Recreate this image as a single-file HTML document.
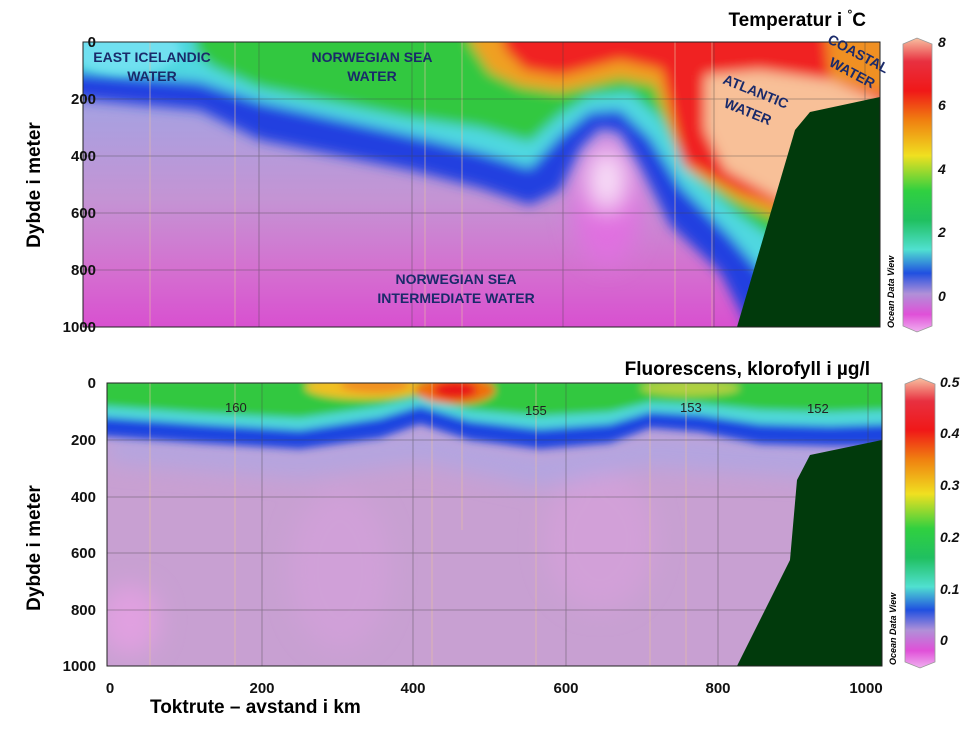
<!DOCTYPE html>
<html><head><meta charset="utf-8"><style>
body{margin:0;background:#fff;width:965px;height:724px;overflow:hidden;font-family:"Liberation Sans",sans-serif}
</style></head><body>
<svg width="965" height="724" viewBox="0 0 965 724" xmlns="http://www.w3.org/2000/svg" font-family="Liberation Sans, sans-serif">
<defs>
<filter id="fb" filterUnits="userSpaceOnUse" x="0" y="0" width="965" height="724"><feGaussianBlur stdDeviation="6"/></filter>
<filter id="fb2" filterUnits="userSpaceOnUse" x="0" y="0" width="965" height="724"><feGaussianBlur stdDeviation="4"/></filter>
<filter id="fb3" filterUnits="userSpaceOnUse" x="0" y="0" width="965" height="724"><feGaussianBlur stdDeviation="12"/></filter>
<clipPath id="c1"><rect x="83" y="42" width="797" height="285"/></clipPath>
<clipPath id="c2"><rect x="107" y="383" width="775" height="283"/></clipPath>
<linearGradient id="bg1" x1="0" y1="0" x2="0" y2="1">
<stop offset="0.25" stop-color="#a8a0e0"/><stop offset="0.55" stop-color="#c494d4"/><stop offset="0.8" stop-color="#d470d0"/><stop offset="1" stop-color="#d850d0"/></linearGradient>
<linearGradient id="cb1" x1="0" y1="0" x2="0" y2="1">
<stop offset="0" stop-color="#f8c0a0"/><stop offset="0.08" stop-color="#e83040"/><stop offset="0.18" stop-color="#f01818"/><stop offset="0.28" stop-color="#f08010"/><stop offset="0.4" stop-color="#f0e020"/><stop offset="0.52" stop-color="#30d040"/><stop offset="0.62" stop-color="#20c060"/><stop offset="0.72" stop-color="#50e0d0"/><stop offset="0.8" stop-color="#2050e0"/><stop offset="0.87" stop-color="#b090d8"/><stop offset="0.94" stop-color="#e050d8"/><stop offset="1" stop-color="#f0b0f0"/></linearGradient>
</defs>
<!-- TOP PANEL -->
<g clip-path="url(#c1)">
<rect x="83" y="42" width="797" height="285" fill="url(#bg1)"/>
<g filter="url(#fb3)">
<ellipse cx="607" cy="200" rx="35" ry="65" fill="#e070e0"/>
<ellipse cx="607" cy="180" rx="18" ry="30" fill="#f8e0f8"/>
</g>
<g filter="url(#fb)">
<path d="M70,30 L70,98 L200,110 L260,140 L410,170 L480,188 L530,205 L560,190 L580,148 L600,128 L620,132 L640,165 L670,225 L720,272 L750,330 L890,330 L890,30Z" fill="#2040e0"/>
<path d="M70,30 L70,72 L200,82 L260,102 L410,135 L480,152 L530,168 L560,136 L590,112 L620,110 L650,138 L680,186 L730,236 L770,282 L800,330 L890,330 L890,30Z" fill="#50d8e0"/>
<path d="M195,30 L195,50 L210,66 L260,88 L410,118 L480,128 L530,142 L560,115 L590,96 L630,92 L660,118 L690,172 L740,216 L790,250 L890,255 L890,30Z" fill="#30c840"/>
<path d="M470,30 L470,42 L490,72 L520,86 L560,92 L620,78 L655,85 L685,168 L740,202 L800,228 L890,228 L890,30Z" fill="#f0a020"/>
<path d="M500,30 L505,50 L525,70 L560,76 L620,60 L662,70 L682,162 L740,192 L800,212 L890,208 L890,30Z" fill="#f02020"/>
<path d="M705,75 L760,70 L830,80 L880,100 L880,200 L780,200 L725,170 L705,130Z" fill="#f8c098"/>
<path d="M825,30 L890,30 L890,95 L830,80Z" fill="#f09020"/>
</g>
<g filter="url(#fb2)">
<ellipse cx="125" cy="50" rx="55" ry="24" fill="#70e0f0"/>
</g>
<g stroke="#e8c0a0" stroke-width="1" opacity="0.6">
<line x1="150" y1="42" x2="150" y2="327"/><line x1="235" y1="42" x2="235" y2="327"/><line x1="425" y1="42" x2="425" y2="327"/><line x1="462" y1="42" x2="462" y2="327"/><line x1="675" y1="42" x2="675" y2="327"/><line x1="712" y1="42" x2="712" y2="327"/>
</g>
<g stroke="#444" stroke-width="0.8" opacity="0.5">
<line x1="83" y1="99" x2="880" y2="99"/><line x1="83" y1="156" x2="880" y2="156"/><line x1="83" y1="213" x2="880" y2="213"/><line x1="83" y1="270" x2="880" y2="270"/>
<line x1="259" y1="42" x2="259" y2="327"/><line x1="412" y1="42" x2="412" y2="327"/><line x1="563" y1="42" x2="563" y2="327"/><line x1="714" y1="42" x2="714" y2="327"/><line x1="865" y1="42" x2="865" y2="327"/>
</g>
<polygon points="737,327 795,130 810,112 880,97 880,327" fill="#013a0c"/>
</g>
<rect x="83" y="42" width="797" height="285" fill="none" stroke="#222" stroke-width="1"/>
<g font-weight="bold" fill="#1a2a6a" font-size="14" text-anchor="middle">
<text x="152" y="62">EAST ICELANDIC</text><text x="152" y="81">WATER</text>
<text x="372" y="62">NORWEGIAN SEA</text><text x="372" y="81">WATER</text>
<text x="456" y="284">NORWEGIAN SEA</text><text x="456" y="303">INTERMEDIATE WATER</text>
<text transform="translate(754,96) rotate(22)">ATLANTIC</text><text transform="translate(746,116) rotate(22)">WATER</text>
<text transform="translate(856,58) rotate(28)">COASTAL</text><text transform="translate(850,77) rotate(28)">WATER</text>
</g>
<g font-weight="bold" font-size="15" text-anchor="end" fill="#111">
<text x="96" y="47">0</text><text x="96" y="104">200</text><text x="96" y="161">400</text><text x="96" y="218">600</text><text x="96" y="275">800</text><text x="96" y="332">1000</text>
</g>
<text transform="translate(40,185) rotate(-90)" text-anchor="middle" font-size="19" font-weight="bold">Dybde i meter</text>
<text x="866" y="26" text-anchor="end" font-size="19" font-weight="bold">Temperatur i <tspan font-size="12" dy="-8">°</tspan><tspan dy="8">C</tspan></text>
<path d="M903,44 L917,38 L932,44 L932,326 L917,332 L903,326Z" fill="url(#cb1)" stroke="#999" stroke-width="0.8"/>
<g font-weight="bold" font-style="italic" font-size="14" fill="#111">
<text x="938" y="47">8</text><text x="938" y="110">6</text><text x="938" y="174">4</text><text x="938" y="237">2</text><text x="938" y="301">0</text>
</g>
<text transform="translate(894,328) rotate(-90)" font-size="9" font-style="italic" font-weight="bold">Ocean Data View</text>

<!-- BOTTOM PANEL -->
<g clip-path="url(#c2)">
<rect x="107" y="383" width="775" height="283" fill="#c8a0d2"/>
<g filter="url(#fb3)">
<ellipse cx="130" cy="620" rx="30" ry="35" fill="#e0a0e0"/>
<ellipse cx="340" cy="570" rx="50" ry="80" fill="#d0a0d8"/>
<ellipse cx="600" cy="540" rx="55" ry="70" fill="#d2a0d8"/>
<path d="M107,435 L300,450 L420,430 L540,455 L650,435 L882,450 L882,480 L650,465 L540,485 L420,460 L300,475 L107,460Z" fill="#b0a6e2"/>
</g>
<g filter="url(#fb2)">
<path d="M100,378 L100,436 L200,443 L300,449 L380,438 L420,424 L470,440 L540,449 L610,443 L650,428 L700,432 L760,444 L830,446 L890,446 L890,378Z" fill="#1c44e0"/>
<path d="M100,378 L100,417 L200,424 L300,430 L380,418 L420,406 L470,421 L540,429 L610,424 L650,412 L700,415 L760,424 L830,426 L890,424 L890,378Z" fill="#50d8d8"/>
<path d="M100,378 L100,406 L200,413 L300,418 L380,406 L420,397 L470,410 L540,416 L610,412 L650,402 L700,404 L760,410 L830,412 L890,410 L890,378Z" fill="#30c840"/>
<ellipse cx="365" cy="387" rx="60" ry="12" fill="#f0c020"/>
<ellipse cx="375" cy="385" rx="35" ry="8" fill="#f09020"/>
<ellipse cx="455" cy="390" rx="40" ry="14" fill="#f07010"/>
<ellipse cx="455" cy="390" rx="22" ry="9" fill="#e81818"/>
<ellipse cx="690" cy="388" rx="50" ry="8" fill="#b0d040"/>
</g>
<g stroke="#e8c0a0" stroke-width="1" opacity="0.6">
<line x1="150" y1="383" x2="150" y2="666"/><line x1="235" y1="383" x2="235" y2="666"/><line x1="432" y1="383" x2="432" y2="666"/><line x1="462" y1="383" x2="462" y2="530"/><line x1="536" y1="383" x2="536" y2="666"/><line x1="650" y1="383" x2="650" y2="666"/><line x1="686" y1="383" x2="686" y2="666"/>
</g>
<g stroke="#444" stroke-width="0.8" opacity="0.5">
<line x1="107" y1="440" x2="882" y2="440"/><line x1="107" y1="497" x2="882" y2="497"/><line x1="107" y1="553" x2="882" y2="553"/><line x1="107" y1="610" x2="882" y2="610"/>
<line x1="262" y1="383" x2="262" y2="666"/><line x1="413" y1="383" x2="413" y2="666"/><line x1="566" y1="383" x2="566" y2="666"/><line x1="718" y1="383" x2="718" y2="666"/><line x1="868" y1="383" x2="868" y2="666"/>
</g>
<polygon points="737,666 790,560 797,480 810,455 882,440 882,666" fill="#013a0c"/>
</g>
<rect x="107" y="383" width="775" height="283" fill="none" stroke="#222" stroke-width="1"/>
<g font-size="13" fill="#222"><text x="225" y="412">160</text><text x="525" y="415">155</text><text x="680" y="412">153</text><text x="807" y="413">152</text></g>
<g font-weight="bold" font-size="15" text-anchor="end" fill="#111">
<text x="96" y="388">0</text><text x="96" y="445">200</text><text x="96" y="502">400</text><text x="96" y="558">600</text><text x="96" y="615">800</text><text x="96" y="671">1000</text>
</g>
<g font-weight="bold" font-size="15" text-anchor="middle" fill="#111">
<text x="110" y="693">0</text><text x="262" y="693">200</text><text x="413" y="693">400</text><text x="566" y="693">600</text><text x="718" y="693">800</text><text x="866" y="693">1000</text>
</g>
<text transform="translate(40,548) rotate(-90)" text-anchor="middle" font-size="19" font-weight="bold">Dybde i meter</text>
<text x="870" y="375" text-anchor="end" font-size="19" font-weight="bold">Fluorescens, klorofyll i µg/l</text>
<text x="150" y="713" font-size="19" font-weight="bold">Toktrute – avstand i km</text>
<path d="M905,384 L920,378 L935,384 L935,662 L920,668 L905,662Z" fill="url(#cb1)" stroke="#999" stroke-width="0.8"/>
<g font-weight="bold" font-style="italic" font-size="14" fill="#111">
<text x="940" y="387">0.5</text><text x="940" y="438">0.4</text><text x="940" y="490">0.3</text><text x="940" y="542">0.2</text><text x="940" y="594">0.1</text><text x="940" y="645">0</text>
</g>
<text transform="translate(896,665) rotate(-90)" font-size="9" font-style="italic" font-weight="bold">Ocean Data View</text>
</svg>
</body></html>
